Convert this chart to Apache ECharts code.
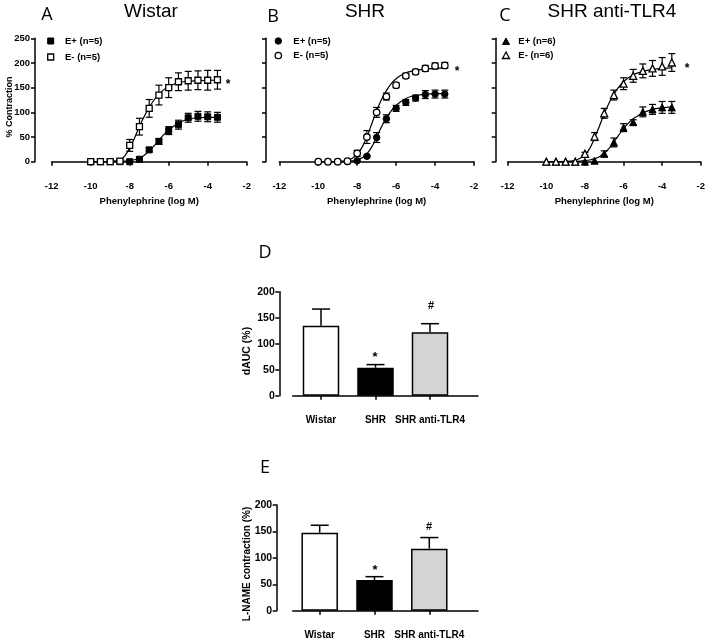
<!DOCTYPE html>
<html><head><meta charset="utf-8">
<script src="https://cdn.jsdelivr.net/npm/echarts@6/dist/echarts.min.js"></script>
<style>html,body{margin:0;padding:0;background:#fff}#c{width:708px;height:640px}</style>
</head><body><div id="c"></div>
<script>
// ---------- data ----------
const doses = [-10, -9.5, -9, -8.5, -8, -7.5, -7, -6.5, -6, -5.5, -5, -4.5, -4, -3.5];
const xTicks = [-12, -10, -8, -6, -4, -2];

const wistarPlus     = [0, 0, 0, 0, 0, 5, 24, 41, 63, 75, 89, 92, 91, 90];
const wistarPlusErr  = [0, 0, 0, 0, 0, 2, 4, 6, 8, 9, 9, 10, 10, 10];
const wistarMinus    = [0, 0, 0, 1, 33, 71, 108, 135, 150, 162, 164, 165, 165, 166];
const wistarMinusErr = [0, 0, 0, 0, 12, 17, 18, 20, 20, 18, 19, 19, 20, 19];

const shrPlus     = [0, 0, 0, 0, 2, 11, 49, 87, 108, 120, 129, 136, 137, 137];
const shrPlusErr  = [0, 0, 0, 0, 0, 2, 10, 8, 6, 6, 6, 8, 8, 8];
const shrMinus    = [0, 0, 0, 1, 17, 50, 100, 132, 155, 174, 182, 189, 194, 195];
const shrMinusErr = [0, 0, 0, 0, 6, 13, 10, 7, 5, 5, 5, 6, 6, 6];

const tlrPlus     = [0, 0, 0, 0, 0, 2, 16, 39, 69, 80, 101, 106, 110, 110];
const tlrPlusErr  = [0, 0, 0, 0, 0, 0, 6, 9, 8, 5, 10, 10, 12, 12];
const tlrMinus    = [0, 0, 0, 0, 16, 51, 98, 135, 158, 174, 184, 189, 193, 201];
const tlrMinusErr = [0, 0, 0, 0, 3, 8, 10, 10, 12, 13, 14, 16, 18, 18];

// fitted curves
const curveX = [-10, -9.5, -9, -8.5, -8.25, -8, -7.75, -7.5, -7.25, -7, -6.75, -6.5, -6.25, -6, -5.75, -5.5, -5.25, -5, -4.5, -4, -3.5];
const wistarPlusCurve  = [0, 0, 0, 0.5, 1, 2, 4, 7, 13, 22, 32, 44, 55, 64, 72, 78, 83, 86, 89, 90, 90];
const wistarMinusCurve = [0, 0, 0.5, 4, 12, 28, 48, 72, 92, 110, 125, 137, 146, 152, 157, 160, 162, 163, 164, 165, 165];
const shrPlusCurve     = [0, 0, 0, 0.5, 1.5, 4, 8, 16, 30, 50, 71, 89, 103, 114, 122, 128, 132, 134, 137, 138, 138];
const shrMinusCurve    = [0, 0, 0.5, 3, 7, 15, 29, 50, 77, 103, 126, 144, 158, 168, 175, 180, 183, 185, 188, 189, 190];
const tlrPlusCurve     = [0, 0, 0, 0.5, 1, 2, 3.5, 6, 10, 17, 27, 40, 54, 67, 78, 87, 93, 99, 106, 109, 111];
const tlrMinusCurve    = [0, 0, 0.5, 3, 7, 14, 27, 48, 72, 97, 119, 137, 151, 162, 170, 176, 180, 183, 187, 189, 190];

const groups = ['Wistar', 'SHR', 'SHR anti-TLR4'];
const dAUC = [134.6, 53.8, 121.9];
const dAUCErr = [32, 6, 16.6];
const lname = [147.7, 58, 117.4];
const lnameErr = [14, 6.4, 21];

// ---------- styling ----------
const FONT = '"Liberation Sans", Arial, sans-serif';
const LETTER_FONT = '"Open Sans", "Noto Sans", sans-serif';
const BLACK = '#000';
const barFill = ['#ffffff', '#000000', '#d4d4d4'];

const chart = echarts.init(document.getElementById('c'), null, {renderer: 'canvas'});

const panels = [
  {left: 51.7, width: 195, yOff: 16.7, labels: true, sym: 'rect', size: 6,
   plus: wistarPlus, plusErr: wistarPlusErr, minus: wistarMinus, minusErr: wistarMinusErr,
   plusCurve: wistarPlusCurve, minusCurve: wistarMinusCurve},
  {left: 279.3, width: 194.7, yOff: 13.3, labels: false, sym: 'circle', size: 6.5,
   plus: shrPlus, plusErr: shrPlusErr, minus: shrMinus, minusErr: shrMinusErr,
   plusCurve: shrPlusCurve, minusCurve: shrMinusCurve},
  {left: 507.7, width: 194.6, yOff: 12, labels: false, sym: 'triangle', size: 7,
   plus: tlrPlus, plusErr: tlrPlusErr, minus: tlrMinus, minusErr: tlrMinusErr,
   plusCurve: tlrPlusCurve, minusCurve: tlrMinusCurve}
];

const axisLineStyle = {color: BLACK, width: 1.5};
const tickLabel = {color: BLACK, fontFamily: FONT, fontWeight: 'bold', fontSize: 9.5};

const grids = [], xAxes = [], yAxes = [], series = [];

function curveErr(params, api) {
  const x = api.value(0), y = api.value(1), e = api.value(2);
  if (!e) return {type: 'group', children: []};
  const hi = api.coord([x, y + e]), lo = api.coord([x, y - e]);
  const w = 3.5, st = {stroke: BLACK, lineWidth: 1.2};
  return {type: 'group', children: [
    {type: 'line', shape: {x1: hi[0], y1: hi[1], x2: lo[0], y2: lo[1]}, style: st},
    {type: 'line', shape: {x1: hi[0] - w, y1: hi[1], x2: hi[0] + w, y2: hi[1]}, style: st},
    {type: 'line', shape: {x1: lo[0] - w, y1: lo[1], x2: lo[0] + w, y2: lo[1]}, style: st}
  ]};
}

panels.forEach((p, i) => {
  grids.push({left: p.left, top: 38.3, width: p.width, height: 123.4});
  xAxes.push({
    gridIndex: i, type: 'value', min: xTicks[0], max: xTicks[xTicks.length - 1], interval: 2, offset: 14,
    axisLine: {show: true, lineStyle: axisLineStyle},
    axisTick: {show: true, length: 4, lineStyle: axisLineStyle},
    axisLabel: Object.assign({margin: 6}, tickLabel),
    splitLine: {show: false},
    name: 'Phenylephrine (log M)', nameLocation: 'middle', nameGap: 21,
    nameTextStyle: {color: BLACK, fontFamily: FONT, fontWeight: 'bold', fontSize: 9.5}
  });
  yAxes.push({
    gridIndex: i, type: 'value', min: 0, max: 250, interval: 50, offset: p.yOff,
    axisLine: {show: true, lineStyle: axisLineStyle},
    axisTick: {show: true, length: 4, lineStyle: axisLineStyle},
    axisLabel: Object.assign({show: p.labels, margin: 5}, tickLabel),
    splitLine: {show: false}
  });
  const lineBase = {type: 'line', xAxisIndex: i, yAxisIndex: i, symbol: 'none', smooth: 0.35,
    lineStyle: {color: BLACK, width: 1.2}, silent: true, z: 2};
  series.push(Object.assign({data: curveX.map((x, k) => [x, p.plusCurve[k]])}, lineBase));
  series.push(Object.assign({data: curveX.map((x, k) => [x, p.minusCurve[k]])}, lineBase));
  series.push({type: 'custom', xAxisIndex: i, yAxisIndex: i, renderItem: curveErr, z: 3, silent: true,
    data: doses.map((x, k) => [x, p.plus[k], p.plusErr[k]])});
  series.push({type: 'custom', xAxisIndex: i, yAxisIndex: i, renderItem: curveErr, z: 3, silent: true,
    data: doses.map((x, k) => [x, p.minus[k], p.minusErr[k]])});
  series.push({type: 'scatter', xAxisIndex: i, yAxisIndex: i, symbol: p.sym, symbolSize: p.size, z: 4,
    itemStyle: {color: BLACK, borderColor: BLACK, borderWidth: 1, opacity: 1},
    data: doses.map((x, k) => [x, p.plus[k]])});
  series.push({type: 'scatter', xAxisIndex: i, yAxisIndex: i, symbol: p.sym, symbolSize: p.size, z: 5,
    itemStyle: {color: '#fff', borderColor: BLACK, borderWidth: 1.3, opacity: 1},
    data: doses.map((x, k) => [x, p.minus[k]])});
});

// bar panels
const barPanels = [
  {top: 291.7, height: 104, left: 293.75, width: 163.5, yOff: 14.45, vals: dAUC, errs: dAUCErr},
  {top: 505, height: 105.7, left: 292.3, width: 164.4, yOff: 15.6, vals: lname, errs: lnameErr}
];

function barErr(params, api) {
  const idx = api.value(0), m = api.value(1), e = api.value(2);
  const top = api.coord([idx, m]), cap = api.coord([idx, m + e]);
  const w = 9, st = {stroke: BLACK, lineWidth: 1.5};
  return {type: 'group', children: [
    {type: 'line', shape: {x1: top[0], y1: top[1], x2: cap[0], y2: cap[1]}, style: st},
    {type: 'line', shape: {x1: cap[0] - w, y1: cap[1], x2: cap[0] + w, y2: cap[1]}, style: st}
  ]};
}

barPanels.forEach((b) => {
  const gi = grids.length;
  grids.push({left: b.left, top: b.top, width: b.width, height: b.height});
  xAxes.push({
    gridIndex: gi, type: 'category', data: groups, offset: 13.6,
    axisLine: {show: false},
    axisTick: {show: true, alignWithLabel: true, length: 4, lineStyle: axisLineStyle},
    axisLabel: {color: BLACK, fontFamily: FONT, fontWeight: 'bold', fontSize: 10, margin: 5.5, interval: 0},
    splitLine: {show: false}
  });
  yAxes.push({
    gridIndex: gi, type: 'value', min: 0, max: 200, interval: 50, offset: b.yOff,
    axisLine: {show: true, lineStyle: axisLineStyle},
    axisTick: {show: true, length: 4, lineStyle: axisLineStyle},
    axisLabel: {color: BLACK, fontFamily: FONT, fontWeight: 'bold', fontSize: 10.5, margin: 4.5},
    splitLine: {show: false}
  });
  series.push({type: 'bar', xAxisIndex: gi, yAxisIndex: gi, barWidth: 36.5, z: 2, silent: true,
    data: b.vals.map((v, k) => ({value: v, itemStyle: {color: barFill[k], borderColor: BLACK, borderWidth: 1.5}}))});
  series.push({type: 'custom', xAxisIndex: gi, yAxisIndex: gi, renderItem: barErr, z: 3, silent: true,
    data: b.vals.map((v, k) => [k, v, b.errs[k]])});
  // extended baseline (axis line runs further right than the bars)
  const li = grids.length;
  grids.push({left: 292.7, top: b.top, width: 185.3, height: b.height});
  xAxes.push({gridIndex: li, type: 'value', min: 0, max: 1, offset: 13.6,
    axisLine: {show: true, lineStyle: axisLineStyle}, axisTick: {show: false},
    axisLabel: {show: false}, splitLine: {show: false}});
  yAxes.push({gridIndex: li, type: 'value', show: false, min: 0, max: 1});
});

// ---------- texts & legends ----------
function txt(text, x, y, font, size, weight, extra) {
  return Object.assign({type: 'text', x: x, y: y, z: 10, silent: true,
    style: {text: text, fill: BLACK, font: (weight || 'normal') + ' ' + size + 'px ' + font,
      align: 'center', verticalAlign: 'middle'}}, extra || {});
}
function rot(text, x, y, size) {
  return txt(text, x, y, FONT, size, 'bold', {rotation: Math.PI / 2});
}
const g = [
  txt('A', 47, 15, LETTER_FONT, 18), txt('Wistar', 151, 12, FONT, 19),
  txt('B', 273, 17, LETTER_FONT, 18), txt('SHR', 365, 12, FONT, 19),
  txt('C', 505, 16, LETTER_FONT, 18), txt('SHR anti-TLR4', 612, 12, FONT, 19),
  txt('D', 265, 253, LETTER_FONT, 18), txt('E', 265, 468, LETTER_FONT, 18),
  rot('% Contraction', 10, 107, 9), rot('dAUC (%)', 247, 351, 10.5), rot('L-NAME contraction (%)', 247, 564, 10),
  txt('*', 228, 85, FONT, 12, 'bold'), txt('*', 457, 72, FONT, 12, 'bold'), txt('*', 687, 69, FONT, 12, 'bold'),
  txt('*', 375, 357, FONT, 13, 'bold'), txt('#', 431, 306, FONT, 11, 'bold'),
  txt('*', 375, 570, FONT, 13, 'bold'), txt('#', 429, 527, FONT, 11, 'bold')
];
const legends = [
  {mx: 50.7, tx: 65, y1: 41, y2: 57, shape: 'rect', n: 5},
  {mx: 278.3, tx: 293.3, y1: 41, y2: 55.5, shape: 'circle', n: 5},
  {mx: 506, tx: 518.3, y1: 41.5, y2: 55.5, shape: 'triangle', n: 6}
];
function marker(shape, x, y, filled) {
  const st = {fill: filled ? BLACK : '#fff', stroke: BLACK, lineWidth: filled ? 1 : 1.3};
  if (shape === 'rect') return {type: 'rect', shape: {x: x - 3, y: y - 3, width: 6, height: 6}, style: st, z: 10};
  if (shape === 'circle') return {type: 'circle', shape: {cx: x, cy: y, r: 3.2}, style: st, z: 10};
  return {type: 'polygon', shape: {points: [[x, y - 3.5], [x + 3.5, y + 3], [x - 3.5, y + 3]]}, style: st, z: 10};
}
function legendText(text, x, y) {
  return {type: 'text', x: x, y: y, z: 10, silent: true,
    style: {text: text, fill: BLACK, font: 'bold 9.5px ' + FONT, align: 'left', verticalAlign: 'middle'}};
}
legends.forEach(l => {
  g.push(marker(l.shape, l.mx, l.y1, true));
  g.push(marker(l.shape, l.mx, l.y2, false));
  g.push(legendText('E+ (n=' + l.n + ')', l.tx, l.y1));
  g.push(legendText('E- (n=' + l.n + ')', l.tx, l.y2));
});

chart.setOption({
  animation: false,
  backgroundColor: '#fff',
  grid: grids, xAxis: xAxes, yAxis: yAxes, series: series, graphic: g
});
</script></body></html>
